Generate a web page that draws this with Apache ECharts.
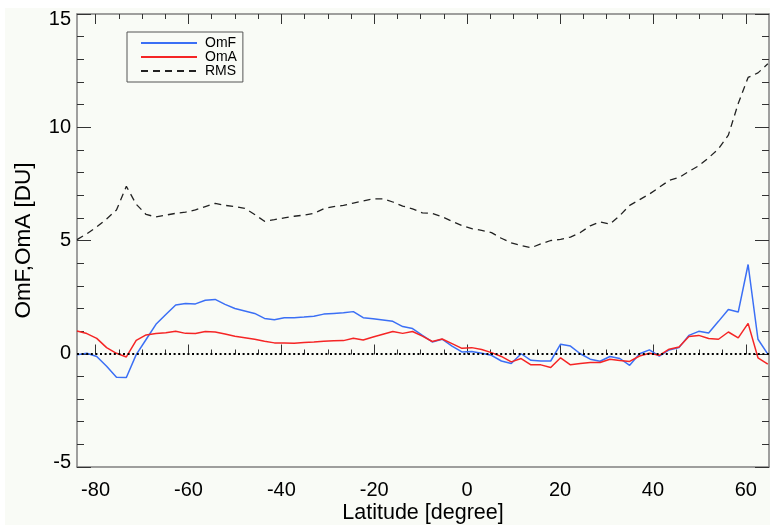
<!DOCTYPE html>
<html><head><meta charset="utf-8">
<script src="https://cdn.jsdelivr.net/npm/echarts@6/dist/echarts.min.js"></script>
<style>html,body{margin:0;padding:0;background:#fff}#c{width:770px;height:529px}</style>
</head><body><div id="c"></div>
<script>
const latitudes = [-84, -81.875, -79.75, -77.625, -75.5, -73.375, -71.25, -69.125, -67, -64.875,
  -62.75, -60.625, -58.5, -56.375, -54.25, -52.125, -50, -47.875, -45.75, -43.625,
  -41.5, -39.375, -37.25, -35.125, -33, -30.875, -28.75, -26.625, -24.5, -22.375,
  -20.25, -18.125, -16, -13.875, -11.75, -9.625, -7.5, -5.375, -3.25, -1.125,
  1, 3.125, 5.25, 7.375, 9.5, 11.625, 13.75, 15.875, 18, 20.125,
  22.25, 24.375, 26.5, 28.625, 30.75, 32.875, 35, 37.125, 39.25, 41.375,
  43.5, 45.625, 47.75, 49.875, 52, 54.125, 56.25, 58.375, 60.5, 62.625, 64.75];
const omf = [-0.04, 0.02, -0.12, -0.55, -1.04, -1.05, -0.04, 0.63, 1.3, 1.73,
  2.15, 2.22, 2.2, 2.36, 2.40, 2.18, 2.0, 1.89, 1.78, 1.56,
  1.5, 1.59, 1.59, 1.62, 1.66, 1.75, 1.78, 1.81, 1.86, 1.59,
  1.55, 1.49, 1.43, 1.2, 1.11, 0.81, 0.52, 0.64, 0.34, 0.08,
  0.1, 0.02, -0.07, -0.32, -0.43, 0.0, -0.29, -0.32, -0.32, 0.42,
  0.34, 0.0, -0.24, -0.33, -0.12, -0.21, -0.51, 0.0, 0.17, -0.11,
  0.17, 0.27, 0.81, 0.99, 0.92, 1.43, 1.95, 1.84, 3.94, 0.64, -0.02];
const oma = [1.0, 0.89, 0.68, 0.27, 0.02, -0.14, 0.59, 0.83, 0.89, 0.93,
  0.99, 0.9, 0.89, 0.98, 0.96, 0.87, 0.77, 0.71, 0.64, 0.55,
  0.48, 0.48, 0.46, 0.5, 0.52, 0.55, 0.57, 0.58, 0.68, 0.61,
  0.74, 0.86, 0.98, 0.9, 0.98, 0.78, 0.54, 0.65, 0.45, 0.24,
  0.27, 0.19, 0.05, -0.12, -0.36, -0.21, -0.49, -0.49, -0.61, -0.18,
  -0.49, -0.43, -0.39, -0.39, -0.24, -0.3, -0.34, -0.1, 0.02, -0.07,
  0.2, 0.3, 0.76, 0.81, 0.67, 0.64, 0.96, 0.7, 1.34, -0.18, -0.46];
const rms = [5.04, 5.3, 5.6, 5.95, 6.35, 7.39, 6.6, 6.15, 6.04, 6.12,
  6.2, 6.25, 6.35, 6.5, 6.64, 6.55, 6.5, 6.42, 6.15, 5.85,
  5.92, 6.0, 6.07, 6.12, 6.2, 6.4, 6.5, 6.55, 6.65, 6.75,
  6.84, 6.84, 6.7, 6.52, 6.4, 6.22, 6.2, 6.05, 5.85, 5.66,
  5.52, 5.45, 5.35, 5.1, 4.9, 4.78, 4.68, 4.85, 5.0, 5.05,
  5.15, 5.35, 5.65, 5.82, 5.72, 6.1, 6.55, 6.8, 7.05, 7.35,
  7.65, 7.78, 8.05, 8.3, 8.65, 9.05, 9.65, 11.05, 12.2, 12.4, 12.8];
const seriesNames = ['OmF', 'OmA', 'RMS'];
const xRange = [-84, 65];
const xTickRange = [-80, 60];
const yRange = [-5, 15];

const FONT = "'Liberation Sans', Arial, sans-serif";
const plot = {left: 77, top: 14, width: 692, height: 454};
const pxPerDeg = plot.width / (xRange[1] - xRange[0]);
const tickGrid = {
  left: plot.left + (xTickRange[0] - xRange[0]) * pxPerDeg,
  top: plot.top,
  width: (xTickRange[1] - xTickRange[0]) * pxPerDeg,
  height: plot.height
};
const frameLine = {show: true, onZero: false, lineStyle: {color: '#808080', width: 1.5}};
const tickStyle = {color: '#333', width: 1};
const labelFont = {fontSize: 20, color: '#000', fontFamily: FONT};

function pairs(vals) { return latitudes.map((x, i) => [x, vals[i]]); }

const chart = echarts.init(document.getElementById('c'));
chart.setOption({
  animation: false,
  backgroundColor: '#ffffff',
  graphic: [{type: 'rect', shape: {x: 5, y: 8, width: 765, height: 517}, style: {fill: '#f9fbf6'}, z: -10, silent: true}],
  grid: [
    Object.assign({show: false}, plot),
    Object.assign({show: false}, tickGrid)
  ],
  legend: {
    left: 127, top: 32, orient: 'vertical',
    itemWidth: 56, itemHeight: 14, itemGap: 0,
    padding: [4, 6, 4, 13],
    borderColor: '#555', borderWidth: 1,
    selectedMode: false,
    itemStyle: {opacity: 0},
    data: seriesNames,
    textStyle: {fontSize: 14, color: '#000', fontFamily: FONT, padding: [0, 0, 0, 3]}
  },
  xAxis: [
    {gridIndex: 0, type: 'value', min: xRange[0], max: xRange[1], position: 'bottom',
      axisLine: frameLine, axisTick: {show: false}, axisLabel: {show: false}, splitLine: {show: false},
      name: 'Latitude [degree]', nameLocation: 'middle', nameGap: 35,
      nameTextStyle: {fontSize: 21.5, color: '#000', fontFamily: FONT}},
    {gridIndex: 0, type: 'value', min: xRange[0], max: xRange[1], position: 'top',
      axisLine: frameLine, axisTick: {show: false}, axisLabel: {show: false}, splitLine: {show: false}},
    {gridIndex: 1, type: 'value', min: xTickRange[0], max: xTickRange[1], interval: 20, position: 'bottom',
      axisLine: {show: false}, splitLine: {show: false},
      axisTick: {show: true, inside: true, length: 10, lineStyle: tickStyle},
      minorTick: {show: true, splitNumber: 4, length: 5, lineStyle: tickStyle},
      axisLabel: Object.assign({margin: 12}, labelFont)},
    {gridIndex: 1, type: 'value', min: xTickRange[0], max: xTickRange[1], interval: 20, position: 'top',
      axisLine: {show: false}, splitLine: {show: false}, axisLabel: {show: false},
      axisTick: {show: true, inside: true, length: 10, lineStyle: tickStyle},
      minorTick: {show: true, splitNumber: 4, length: 5, lineStyle: tickStyle}}
  ],
  yAxis: [
    {gridIndex: 0, type: 'value', min: yRange[0], max: yRange[1], interval: 5, position: 'left',
      axisLine: frameLine, splitLine: {show: false},
      axisTick: {show: true, inside: true, length: 14, lineStyle: tickStyle},
      minorTick: {show: true, splitNumber: 5, length: 7, lineStyle: tickStyle},
      axisLabel: Object.assign({
        margin: 6,
        formatter: function (v) {
          if (v === yRange[1]) return '{top|' + v + '}';
          if (v === yRange[0]) return '{bot|' + v + '}';
          return String(v);
        },
        rich: {
          top: Object.assign({padding: [10, 0, 0, 0]}, labelFont),
          bot: Object.assign({padding: [0, 0, 10, 0]}, labelFont)
        }
      }, labelFont),
      name: 'OmF,OmA [DU]', nameLocation: 'middle', nameGap: 42,
      nameTextStyle: {fontSize: 22.5, color: '#000', fontFamily: FONT}},
    {gridIndex: 0, type: 'value', min: yRange[0], max: yRange[1], interval: 5, position: 'right',
      axisLine: frameLine, splitLine: {show: false}, axisLabel: {show: false},
      axisTick: {show: true, inside: true, length: 14, lineStyle: tickStyle},
      minorTick: {show: true, splitNumber: 5, length: 7, lineStyle: tickStyle}},
    {gridIndex: 1, type: 'value', min: yRange[0], max: yRange[1], show: false}
  ],
  series: [
    {name: seriesNames[0], type: 'line', xAxisIndex: 0, yAxisIndex: 0, data: pairs(omf),
      symbol: 'none', lineStyle: {color: '#3b6ff5', width: 1.5}, itemStyle: {color: '#3b6ff5'},
      markLine: {silent: true, symbol: ['none', 'none'], label: {show: false},
        lineStyle: {color: '#000', type: [2, 2.6], width: 2}, data: [{yAxis: 0}]}},
    {name: seriesNames[1], type: 'line', xAxisIndex: 0, yAxisIndex: 0, data: pairs(oma),
      symbol: 'none', lineStyle: {color: '#f52525', width: 1.5}, itemStyle: {color: '#f52525'}},
    {name: seriesNames[2], type: 'line', xAxisIndex: 0, yAxisIndex: 0, data: pairs(rms),
      symbol: 'none', lineStyle: {color: '#222', width: 1.3, type: [7, 5]}, itemStyle: {color: '#222'}}
  ]
});
</script></body></html>
